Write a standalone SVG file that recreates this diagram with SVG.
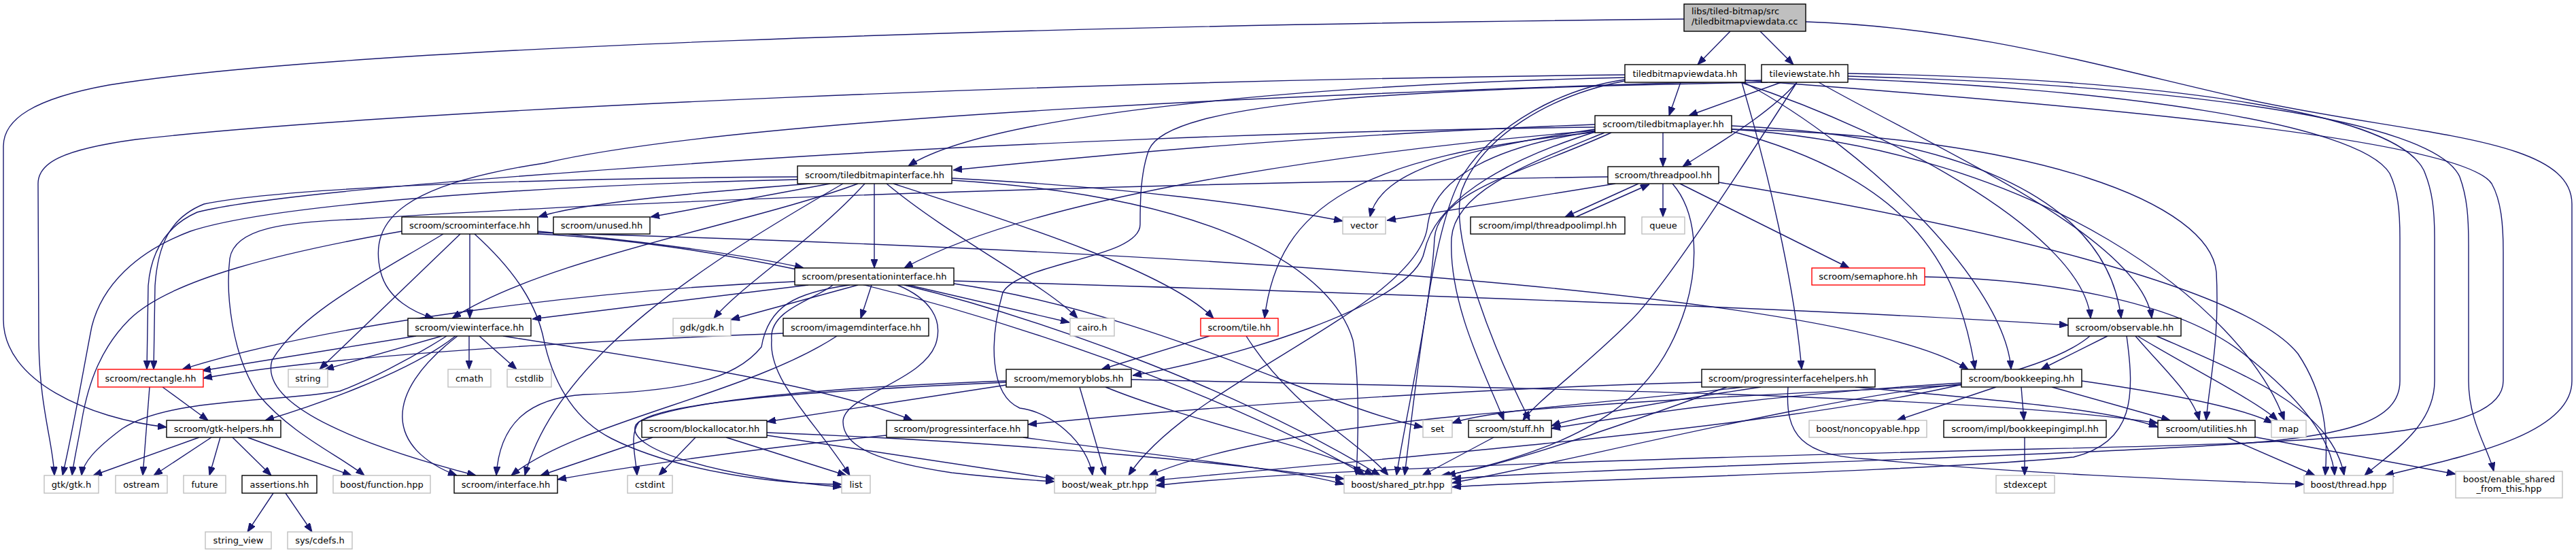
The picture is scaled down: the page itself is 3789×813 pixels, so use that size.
<svg xmlns="http://www.w3.org/2000/svg" width="3789" height="813" viewBox="0 0 3789 813">
<style>
.e{fill:none;stroke:#191970;stroke-width:1.4;marker-end:url(#arr)}
.n rect{fill:#ffffff;stroke:#000000;stroke-width:1.4}
.x rect{stroke:#bfbfbf}
.r rect{stroke:#ff0000}
.root rect{fill:#bfbfbf}
text{font-family:"DejaVu Sans","Liberation Sans",sans-serif;font-size:13px;fill:#000000;text-anchor:middle}
</style>
<defs>
<marker id="arr" viewBox="0 0 13 10" refX="13" refY="5" markerWidth="13" markerHeight="10" markerUnits="userSpaceOnUse" orient="auto">
<path d="M0,0 L13,5 L0,10 z" fill="#191970" stroke="#191970"/>
</marker>
</defs>
<rect width="3789" height="813" fill="#ffffff"/>
<g id="edges">
<path class="e" d="M2545,46 L2497,95"/>
<path class="e" d="M2589,46 L2638,95"/>
<path class="e" d="M2477,28 C1500,38 500,70 160,125 C50,145 5,175 5,215 L5,470 C5,560 130,615 245,628"/>
<path class="e" d="M2656,32 C2900,40 3100,100 3300,145 C3550,200 3783,200 3783,300 L3783,560 C3783,640 3620,672 3508,699"/>
<path class="e" d="M2472,121 L2455,170"/>
<path class="e" d="M2390,110 C1600,118 600,160 200,205 C90,220 56,240 56,270 L57,500 C58,600 78,650 80,699"/>
<path class="e" d="M2390,114 C1900,125 1450,170 1336,244"/>
<path class="e" d="M2562,121 C2600,250 2640,420 2650,543"/>
<path class="e" d="M2565,121 C2750,220 2950,420 2958,543"/>
<path class="e" d="M2390,117 C2300,130 2200,180 2150,260 C2110,330 2090,500 2066,699"/>
<path class="e" d="M2390,119 C2280,140 2180,200 2150,280 C2130,350 2200,520 2250,618"/>
<path class="e" d="M2560,121 C2800,200 3065,350 3075,468"/>
<path class="e" d="M2567,118 C3000,150 3620,200 3665,270 C3679,295 3682,330 3682,370 L3682,560 C3682,640 3450,650 3000,660 C2500,672 1900,690 1700,714"/>
<path class="e" d="M2620,121 L2484,170"/>
<path class="e" d="M2643,121 C2600,170 2520,215 2475,245"/>
<path class="e" d="M2591,118 C2000,135 1100,170 800,240 C600,270 540,320 560,400 C570,440 610,460 638,468"/>
<path class="e" d="M2600,121 C2050,130 1720,150 1690,220 C1677,255 1677,300 1677,330 C1677,380 1500,385 1475,430 C1455,500 1455,580 1500,600 C1545,605 1600,650 1607,699"/>
<path class="e" d="M2643,121 C2560,250 2450,420 2400,470 C2330,540 2260,590 2240,618"/>
<path class="e" d="M2675,121 C2850,220 3150,350 3165,468"/>
<path class="e" d="M2718,108 C3150,115 3520,160 3565,250 C3578,280 3581,310 3581,350 L3581,560 C3581,630 3510,670 3478,699"/>
<path class="e" d="M2718,112 C3200,125 3580,175 3618,260 C3629,290 3631,320 3631,360 L3631,560 C3631,620 3660,660 3668,693"/>
<path class="e" d="M2718,116 C3100,130 3470,180 3515,255 C3527,280 3530,310 3530,350 L3530,560 C3530,620 3450,640 3300,652 C3000,672 2300,690 2136,704"/>
<path class="e" d="M2346,183 C1900,200 1600,230 1402,250"/>
<path class="e" d="M2446,195 L2446,245"/>
<path class="e" d="M2346,190 C2150,220 2030,250 2015,319"/>
<path class="e" d="M2346,192 C1900,230 1500,300 1330,394"/>
<path class="e" d="M2350,194 C2000,230 1880,300 1860,468"/>
<path class="e" d="M2346,187 C1900,192 1400,215 1100,235 C700,262 380,288 290,312 C245,332 222,370 218,420 L216,543"/>
<path class="e" d="M2346,194 C2200,240 2110,300 2095,370 C2080,450 1800,530 1666,552"/>
<path class="e" d="M2547,185 C2900,200 3100,300 3120,468"/>
<path class="e" d="M2547,193 C2800,260 2880,380 2905,543"/>
<path class="e" d="M2360,195 C2250,240 2140,280 2135,350 C2130,450 2190,560 2212,618"/>
<path class="e" d="M2547,190 C3000,220 3300,450 3360,618"/>
<path class="e" d="M2346,193 C2200,215 2110,260 2100,330 C2090,450 1750,560 1660,699"/>
<path class="e" d="M2370,195 C2250,250 2115,280 2110,350 C2105,450 2070,600 2054,699"/>
<path class="e" d="M2547,190 C3000,200 3250,300 3260,400 C3265,500 3250,560 3245,618"/>
<path class="e" d="M1192,270 C1000,285 850,300 792,319"/>
<path class="e" d="M1221,270 L957,319"/>
<path class="e" d="M1400,262 C1650,275 1850,300 1975,325"/>
<path class="e" d="M1286,270 L1286,394"/>
<path class="e" d="M1262,270 C1100,330 800,380 665,468"/>
<path class="e" d="M1272,270 C1200,350 1090,420 1050,468"/>
<path class="e" d="M1304,270 C1400,350 1540,420 1585,468"/>
<path class="e" d="M1314,270 C1500,330 1720,400 1785,468"/>
<path class="e" d="M1173,260 C800,262 420,275 300,300 C250,320 232,360 228,420 L226,543"/>
<path class="e" d="M1173,264 C800,272 400,300 280,340 C200,370 150,420 135,480 C125,530 110,620 92,699"/>
<path class="e" d="M1400,265 C1800,290 1960,400 1990,500 C2000,560 1998,640 1995,699"/>
<path class="e" d="M1240,270 C1050,380 820,520 772,699"/>
<path class="e" d="M2376,270 L2040,324"/>
<path class="e" d="M2410,270 L2302,319"/>
<path class="e" d="M2318,319 L2426,271"/>
<path class="e" d="M2446,270 L2446,319"/>
<path class="e" d="M2471,270 L2720,394"/>
<path class="e" d="M2365,260 C1800,268 1000,290 530,322 C420,326 345,335 338,380 C332,430 340,520 380,580 C430,640 500,670 536,699"/>
<path class="e" d="M2460,270 C2495,310 2500,380 2480,450 C2440,580 2350,650 2128,699"/>
<path class="e" d="M2528,268 C2900,330 3300,420 3380,520 C3420,580 3425,640 3420,699"/>
<path class="e" d="M791,340 C950,355 1100,375 1182,394"/>
<path class="e" d="M691,344 L691,468"/>
<path class="e" d="M677,344 L470,543"/>
<path class="e" d="M591,340 C420,370 250,410 190,470 C150,510 130,560 120,620 C115,650 108,680 106,699"/>
<path class="e" d="M652,344 C560,400 440,460 400,530 C380,600 550,660 700,699"/>
<path class="e" d="M698,344 C760,400 790,450 800,500 C815,570 850,620 900,645 C1000,695 1150,712 1238,712"/>
<path class="e" d="M791,344 C1300,370 1850,600 2008,699"/>
<path class="e" d="M791,342 C1600,365 2700,420 2895,543"/>
<path class="e" d="M1189,419 L783,469"/>
<path class="e" d="M1262,419 L1075,470"/>
<path class="e" d="M1282,419 L1266,468"/>
<path class="e" d="M1336,419 L1573,474"/>
<path class="e" d="M1403,413 C2000,430 2700,455 3042,478"/>
<path class="e" d="M1169,414 C900,425 500,470 268,543"/>
<path class="e" d="M1403,417 C1700,460 1950,600 2093,628"/>
<path class="e" d="M1250,419 C1170,430 1130,450 1120,510 C1080,560 1000,575 860,580 C780,585 735,620 730,699"/>
<path class="e" d="M1225,419 C1200,440 1130,455 1135,500 C1130,560 1200,620 1250,699"/>
<path class="e" d="M1320,419 C1370,440 1385,470 1378,500 C1365,560 1240,580 1240,620 C1240,660 1300,680 1400,695 C1470,703 1520,706 1551,708"/>
<path class="e" d="M1330,419 C1500,460 1800,560 2030,699"/>
<path class="e" d="M2831,407 C3000,410 3200,440 3300,520 C3390,590 3430,650 3434,699"/>
<path class="e" d="M612,494 L297,545"/>
<path class="e" d="M650,494 L478,543"/>
<path class="e" d="M690,494 L690,543"/>
<path class="e" d="M705,494 L760,543"/>
<path class="e" d="M670,494 C600,550 450,600 390,618"/>
<path class="e" d="M657,494 C600,530 540,560 500,575 C400,592 250,585 180,630 C140,660 122,680 120,699"/>
<path class="e" d="M673,494 C560,580 570,660 672,699"/>
<path class="e" d="M740,494 C900,520 1200,560 1342,618"/>
<path class="e" d="M1231,494 C1100,580 850,620 752,699"/>
<path class="e" d="M1152,490 C900,500 500,520 299,556"/>
<path class="e" d="M1779,494 L1620,543"/>
<path class="e" d="M1833,494 C1900,600 2000,650 2042,699"/>
<path class="e" d="M3100,494 L3002,543"/>
<path class="e" d="M3141,494 C3180,540 3225,580 3235,618"/>
<path class="e" d="M3144,494 C3220,540 3320,590 3350,618"/>
<path class="e" d="M3172,494 C3300,550 3430,600 3448,699"/>
<path class="e" d="M3128,494 C3140,580 3140,650 3050,672 C2800,695 2300,705 2136,716"/>
<path class="e" d="M3074,494 C2950,600 2300,650 1700,706"/>
<path class="e" d="M239,569 L306,618"/>
<path class="e" d="M220,569 L210,699"/>
<path class="e" d="M1480,566 L1128,620"/>
<path class="e" d="M1480,560 C1200,570 1000,590 940,620 C925,640 935,670 937,699"/>
<path class="e" d="M1480,562 C1200,575 960,590 935,625 C920,660 1050,700 1238,716"/>
<path class="e" d="M1588,569 L1626,699"/>
<path class="e" d="M1626,569 C1750,620 1950,660 2020,699"/>
<path class="e" d="M1664,558 C2200,570 2900,580 3174,622"/>
<path class="e" d="M2503,562 C2200,570 1800,595 1512,624"/>
<path class="e" d="M2563,569 C2400,590 2200,600 2136,622"/>
<path class="e" d="M2590,569 C2450,590 2330,610 2282,626"/>
<path class="e" d="M2630,569 C2625,640 2650,670 2750,675 C2950,695 3200,705 3389,712"/>
<path class="e" d="M2729,569 C2900,585 3100,600 3174,628"/>
<path class="e" d="M2540,569 C2400,620 2200,690 2120,699"/>
<path class="e" d="M2936,569 L2790,618"/>
<path class="e" d="M2973,569 L2977,618"/>
<path class="e" d="M3018,569 L3192,618"/>
<path class="e" d="M3062,560 C3200,580 3300,600 3343,622"/>
<path class="e" d="M2885,563 C2600,580 2400,610 2282,630"/>
<path class="e" d="M2885,565 C2700,580 2300,680 2136,710"/>
<path class="e" d="M2885,566 C2400,590 1900,610 1690,699"/>
<path class="e" d="M293,643 L137,699"/>
<path class="e" d="M311,643 L226,699"/>
<path class="e" d="M324,643 L308,699"/>
<path class="e" d="M342,643 L399,699"/>
<path class="e" d="M364,643 L517,699"/>
<path class="e" d="M960,643 L795,699"/>
<path class="e" d="M1023,643 L969,699"/>
<path class="e" d="M1068,643 L1245,699"/>
<path class="e" d="M1128,640 C1300,665 1450,690 1551,704"/>
<path class="e" d="M1128,636 C1500,650 1800,680 1977,704"/>
<path class="e" d="M1304,640 C1100,660 900,690 820,705"/>
<path class="e" d="M1505,643 C1700,670 1900,690 1977,712"/>
<path class="e" d="M2197,643 L2092,699"/>
<path class="e" d="M2978,643 L2978,699"/>
<path class="e" d="M3276,643 L3405,699"/>
<path class="e" d="M3314,642 L3612,697"/>
<path class="e" d="M402,725 L364,782"/>
<path class="e" d="M420,725 L459,782"/>
</g>
<g id="n-root" class="n root"><rect x="2477" y="6" width="179" height="40"/><text x="2488" y="21" style="text-anchor:start">libs/tiled-bitmap/src</text><text x="2488" y="36" style="text-anchor:start">/tiledbitmapviewdata.cc</text></g>
<g id="n-tiledbitmapviewdata" class="n"><rect x="2390" y="95" width="177" height="26"/><text x="2478.5" y="113">tiledbitmapviewdata.hh</text></g>
<g id="n-tileviewstate" class="n"><rect x="2591" y="95" width="127" height="26"/><text x="2654.5" y="113">tileviewstate.hh</text></g>
<g id="n-tiledbitmaplayer" class="n"><rect x="2346" y="170" width="201" height="25"/><text x="2446.5" y="187">scroom/tiledbitmaplayer.hh</text></g>
<g id="n-tiledbitmapinterface" class="n"><rect x="1173" y="244" width="227" height="26"/><text x="1286.5" y="262">scroom/tiledbitmapinterface.hh</text></g>
<g id="n-threadpool" class="n"><rect x="2365" y="245" width="163" height="25"/><text x="2446.5" y="262">scroom/threadpool.hh</text></g>
<g id="n-scroominterface" class="n"><rect x="591" y="319" width="200" height="25"/><text x="691" y="336">scroom/scroominterface.hh</text></g>
<g id="n-unused" class="n"><rect x="814" y="319" width="142" height="25"/><text x="885" y="336">scroom/unused.hh</text></g>
<g id="n-vector" class="n x"><rect x="1975" y="319" width="63" height="25"/><text x="2006.5" y="336">vector</text></g>
<g id="n-threadpoolimpl" class="n"><rect x="2163" y="319" width="227" height="25"/><text x="2276.5" y="336">scroom/impl/threadpoolimpl.hh</text></g>
<g id="n-queue" class="n x"><rect x="2415" y="319" width="63" height="25"/><text x="2446.5" y="336">queue</text></g>
<g id="n-presentationinterface" class="n"><rect x="1169" y="394" width="234" height="25"/><text x="1286" y="411">scroom/presentationinterface.hh</text></g>
<g id="n-semaphore" class="n r"><rect x="2665" y="394" width="166" height="25"/><text x="2748" y="411">scroom/semaphore.hh</text></g>
<g id="n-viewinterface" class="n"><rect x="600" y="468" width="181" height="26"/><text x="690.5" y="486">scroom/viewinterface.hh</text></g>
<g id="n-gdk" class="n x"><rect x="990" y="468" width="85" height="26"/><text x="1032.5" y="486">gdk/gdk.h</text></g>
<g id="n-imagemdinterface" class="n"><rect x="1152" y="468" width="214" height="26"/><text x="1259" y="486">scroom/imagemdinterface.hh</text></g>
<g id="n-cairo" class="n x"><rect x="1574" y="468" width="65" height="26"/><text x="1606.5" y="486">cairo.h</text></g>
<g id="n-tile" class="n r"><rect x="1766" y="468" width="114" height="26"/><text x="1823" y="486">scroom/tile.hh</text></g>
<g id="n-observable" class="n"><rect x="3042" y="468" width="166" height="26"/><text x="3125" y="486">scroom/observable.hh</text></g>
<g id="n-rectangle" class="n r"><rect x="144" y="543" width="155" height="26"/><text x="221.5" y="561">scroom/rectangle.hh</text></g>
<g id="n-string" class="n x"><rect x="424" y="543" width="58" height="26"/><text x="453" y="561">string</text></g>
<g id="n-cmath" class="n x"><rect x="659" y="543" width="63" height="26"/><text x="690.5" y="561">cmath</text></g>
<g id="n-cstdlib" class="n x"><rect x="746" y="543" width="65" height="26"/><text x="778.5" y="561">cstdlib</text></g>
<g id="n-memoryblobs" class="n"><rect x="1480" y="543" width="184" height="26"/><text x="1572" y="561">scroom/memoryblobs.hh</text></g>
<g id="n-progressinterfacehelpers" class="n"><rect x="2503" y="543" width="255" height="26"/><text x="2630.5" y="561">scroom/progressinterfacehelpers.hh</text></g>
<g id="n-bookkeeping" class="n"><rect x="2885" y="543" width="177" height="26"/><text x="2973.5" y="561">scroom/bookkeeping.hh</text></g>
<g id="n-gtk-helpers" class="n"><rect x="245" y="618" width="168" height="25"/><text x="329" y="635">scroom/gtk-helpers.hh</text></g>
<g id="n-blockallocator" class="n"><rect x="944" y="618" width="184" height="25"/><text x="1036" y="635">scroom/blockallocator.hh</text></g>
<g id="n-progressinterface" class="n"><rect x="1304" y="618" width="208" height="25"/><text x="1408" y="635">scroom/progressinterface.hh</text></g>
<g id="n-set" class="n x"><rect x="2093" y="618" width="43" height="25"/><text x="2114.5" y="635">set</text></g>
<g id="n-stuff" class="n"><rect x="2160" y="618" width="122" height="25"/><text x="2221" y="635">scroom/stuff.hh</text></g>
<g id="n-noncopyable" class="n x"><rect x="2661" y="618" width="173" height="25"/><text x="2747.5" y="635">boost/noncopyable.hpp</text></g>
<g id="n-bookkeepingimpl" class="n"><rect x="2859" y="618" width="239" height="25"/><text x="2978.5" y="635">scroom/impl/bookkeepingimpl.hh</text></g>
<g id="n-utilities" class="n"><rect x="3174" y="618" width="143" height="25"/><text x="3245.5" y="635">scroom/utilities.hh</text></g>
<g id="n-map" class="n x"><rect x="3341" y="618" width="51" height="25"/><text x="3366.5" y="635">map</text></g>
<g id="n-gtk" class="n x"><rect x="65" y="699" width="80" height="26"/><text x="105" y="717">gtk/gtk.h</text></g>
<g id="n-ostream" class="n x"><rect x="170" y="699" width="76" height="26"/><text x="208" y="717">ostream</text></g>
<g id="n-future" class="n x"><rect x="270" y="699" width="62" height="26"/><text x="301" y="717">future</text></g>
<g id="n-assertions" class="n"><rect x="356" y="699" width="110" height="26"/><text x="411" y="717">assertions.hh</text></g>
<g id="n-function" class="n x"><rect x="490" y="699" width="143" height="26"/><text x="561.5" y="717">boost/function.hpp</text></g>
<g id="n-interface" class="n"><rect x="668" y="699" width="152" height="26"/><text x="744" y="717">scroom/interface.hh</text></g>
<g id="n-cstdint" class="n x"><rect x="923" y="699" width="66" height="26"/><text x="956" y="717">cstdint</text></g>
<g id="n-list" class="n x"><rect x="1238" y="699" width="42" height="26"/><text x="1259" y="717">list</text></g>
<g id="n-weak_ptr" class="n x"><rect x="1551" y="699" width="149" height="26"/><text x="1625.5" y="717">boost/weak_ptr.hpp</text></g>
<g id="n-shared_ptr" class="n x"><rect x="1977" y="699" width="158" height="26"/><text x="2056" y="717">boost/shared_ptr.hpp</text></g>
<g id="n-stdexcept" class="n x"><rect x="2936" y="699" width="86" height="26"/><text x="2979" y="717">stdexcept</text></g>
<g id="n-thread" class="n x"><rect x="3389" y="699" width="131" height="26"/><text x="3454.5" y="717">boost/thread.hpp</text></g>
<g id="n-enable_shared" class="n x"><rect x="3612" y="693" width="157" height="39"/><text x="3690.5" y="709">boost/enable_shared</text><text x="3690.5" y="723">_from_this.hpp</text></g>
<g id="n-string_view" class="n x"><rect x="302" y="782" width="97" height="25"/><text x="350.5" y="799">string_view</text></g>
<g id="n-cdefs" class="n x"><rect x="423" y="782" width="95" height="25"/><text x="470.5" y="799">sys/cdefs.h</text></g>
</svg>
